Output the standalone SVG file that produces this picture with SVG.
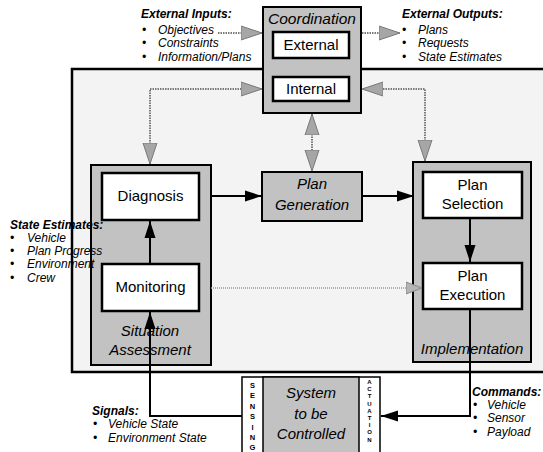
<svg xmlns="http://www.w3.org/2000/svg" width="543" height="452" viewBox="0 0 543 452">
<style>
text{font-family:"Liberation Sans",Arial,sans-serif;fill:#000}
.lbl{font-size:15px;text-anchor:middle}
.it{font-style:italic}
.hd{font-size:12px;font-weight:bold;font-style:italic}
.bl{font-size:12px;font-style:italic}
.gray{fill:#c2c2c2;stroke:#000;stroke-width:2}
.white{fill:#fff;stroke:#000;stroke-width:2.5}
.col{fill:#fff;stroke:#000;stroke-width:1.5}
.ltr{font-size:7.5px;font-weight:bold;text-anchor:middle}
.ltr2{font-size:6px;font-weight:bold;text-anchor:middle}
.blk{fill:none;stroke:#000;stroke-width:2}
.dot{fill:none;stroke:#7a7a7a;stroke-width:2;stroke-dasharray:1.5 1}
.fdot{fill:none;stroke:#999;stroke-width:1.5;stroke-dasharray:1 1}
</style>
<defs>
<marker id="ga" markerUnits="userSpaceOnUse" markerWidth="24" markerHeight="16" refX="21" refY="8" orient="auto-start-reverse">
<path d="M0,1 L21,8 L0,15 z" fill="#a6a6a6" stroke="#7a7a7a" stroke-width="1"/>
</marker>
<marker id="gs" markerUnits="userSpaceOnUse" markerWidth="18" markerHeight="14" refX="16" refY="7" orient="auto">
<path d="M0,1 L16,7 L0,13 z" fill="#b4b4b4" stroke="#888" stroke-width="1"/>
</marker>
<marker id="ba" markerUnits="userSpaceOnUse" markerWidth="18" markerHeight="12" refX="17" refY="6" orient="auto-start-reverse">
<path d="M0,0.5 L17,6 L0,11.5 z" fill="#000"/>
</marker>
</defs>
<rect width="543" height="452" fill="#fff"/>
<g id="frame">
<rect x="72" y="69" width="471" height="303" fill="#f3f3f3"/>
<path d="M543,69 H72 V372 H543" fill="none" stroke="#000" stroke-width="2.5"/>
</g>
<g id="external-inputs">
<text x="141" y="18" class="hd">External Inputs:</text>
<text x="142" y="34" class="bl">•</text><text x="158" y="34" class="bl">Objectives</text>
<text x="142" y="47" class="bl">•</text><text x="158" y="47" class="bl">Constraints</text>
<text x="142" y="61" class="bl">•</text><text x="158" y="61" class="bl">Information/Plans</text>
</g>
<g id="external-outputs">
<text x="402" y="18" class="hd">External Outputs:</text>
<text x="402" y="34" class="bl">•</text><text x="418" y="34" class="bl">Plans</text>
<text x="402" y="47" class="bl">•</text><text x="418" y="47" class="bl">Requests</text>
<text x="402" y="61" class="bl">•</text><text x="418" y="61" class="bl">State Estimates</text>
</g>
<g id="coordination">
<rect x="263" y="7" width="98" height="106" class="gray"/>
<text x="312" y="24" class="lbl it" style="font-size:15.5px">Coordination</text>
<rect x="273" y="32" width="76" height="26" class="white"/>
<text x="311" y="50" class="lbl">External</text>
<rect x="273" y="77" width="76" height="24" class="white"/>
<text x="311" y="94" class="lbl">Internal</text>
</g>
<g id="situation-assessment">
<rect x="91" y="165" width="120" height="200" class="gray"/>
<rect x="102" y="173" width="97" height="47" class="white"/>
<text x="150.5" y="201" class="lbl">Diagnosis</text>
<rect x="102" y="264" width="97" height="47" class="white"/>
<text x="150.5" y="292" class="lbl">Monitoring</text>
<text x="150" y="336" class="lbl it">Situation</text>
<text x="150" y="355" class="lbl it">Assessment</text>
</g>
<g id="plan-generation">
<rect x="262" y="172" width="100" height="49" class="gray"/>
<text x="312" y="189" class="lbl it">Plan</text>
<text x="312" y="210" class="lbl it">Generation</text>
</g>
<g id="implementation">
<rect x="413" y="162" width="118" height="200" class="gray"/>
<rect x="423" y="172" width="99" height="46" class="white"/>
<text x="472.5" y="190" class="lbl">Plan</text>
<text x="472.5" y="209" class="lbl">Selection</text>
<rect x="423" y="263" width="99" height="46" class="white"/>
<text x="472.5" y="281" class="lbl">Plan</text>
<text x="472.5" y="300" class="lbl">Execution</text>
<text x="472" y="354" class="lbl it">Implementation</text>
</g>
<g id="state-estimates">
<text x="10" y="229" class="hd">State Estimates:</text>
<text x="10" y="242" class="bl">•</text><text x="27" y="242" class="bl">Vehicle</text>
<text x="10" y="255" class="bl">•</text><text x="27" y="255" class="bl">Plan Progress</text>
<text x="10" y="268" class="bl">•</text><text x="27" y="268" class="bl">Environment</text>
<text x="10" y="282" class="bl">•</text><text x="27" y="282" class="bl">Crew</text>
</g>
<g id="system">
<rect x="242" y="377" width="138" height="80" class="col"/>
<rect x="263" y="377" width="96" height="80" fill="#c2c2c2" stroke="#000" stroke-width="1.5"/>
<text x="311" y="398" class="lbl it">System</text>
<text x="311" y="419" class="lbl it">to be</text>
<text x="311" y="439" class="lbl it">Controlled</text>
<g id="sensing">
<text x="252.5" y="388" class="ltr">S</text>
<text x="252.5" y="398" class="ltr">E</text>
<text x="252.5" y="409" class="ltr">N</text>
<text x="252.5" y="419" class="ltr">S</text>
<text x="252.5" y="430" class="ltr">I</text>
<text x="252.5" y="440" class="ltr">N</text>
<text x="252.5" y="450" class="ltr">G</text>
</g>
<g id="actuation">
<text x="369.5" y="384" class="ltr2">A</text>
<text x="369.5" y="391" class="ltr2">C</text>
<text x="369.5" y="398" class="ltr2">T</text>
<text x="369.5" y="406" class="ltr2">U</text>
<text x="369.5" y="413" class="ltr2">A</text>
<text x="369.5" y="420" class="ltr2">T</text>
<text x="369.5" y="427" class="ltr2">I</text>
<text x="369.5" y="434" class="ltr2">O</text>
<text x="369.5" y="442" class="ltr2">N</text>
</g>
</g>
<g id="signals">
<text x="92" y="415" class="hd">Signals:</text>
<text x="93" y="428" class="bl">•</text><text x="108" y="428" class="bl">Vehicle State</text>
<text x="93" y="442" class="bl">•</text><text x="108" y="442" class="bl">Environment State</text>
</g>
<g id="commands">
<text x="472" y="396" class="hd">Commands:</text>
<text x="473" y="409" class="bl">•</text><text x="487" y="409" class="bl">Vehicle</text>
<text x="473" y="422" class="bl">•</text><text x="487" y="422" class="bl">Sensor</text>
<text x="473" y="436" class="bl">•</text><text x="487" y="436" class="bl">Payload</text>
</g>
<g id="connectors">
<path d="M218,33 H262" class="dot" marker-end="url(#ga)"/>
<path d="M362,33 H400" class="dot" marker-end="url(#ga)"/>
<path d="M150,164 V89 H262" class="dot" marker-start="url(#ga)" marker-end="url(#ga)"/>
<path d="M425,161 V89 H362" class="dot" marker-start="url(#ga)" marker-end="url(#ga)"/>
<path d="M312,114 V171" class="dot" marker-start="url(#ga)" marker-end="url(#ga)"/>
<path d="M211,288 H422" class="fdot" marker-end="url(#gs)"/>
<path d="M211,196 H262" class="blk" marker-end="url(#ba)"/>
<path d="M362,196 H414" class="blk" marker-end="url(#ba)"/>
<path d="M150,264 V221" class="blk" marker-end="url(#ba)"/>
<path d="M470,218 V262" class="blk" marker-end="url(#ba)"/>
<path d="M242,416 H150 V312" class="blk" marker-end="url(#ba)"/>
<path d="M470,309 V416 H381" class="blk" marker-end="url(#ba)"/>
</g>
</svg>
